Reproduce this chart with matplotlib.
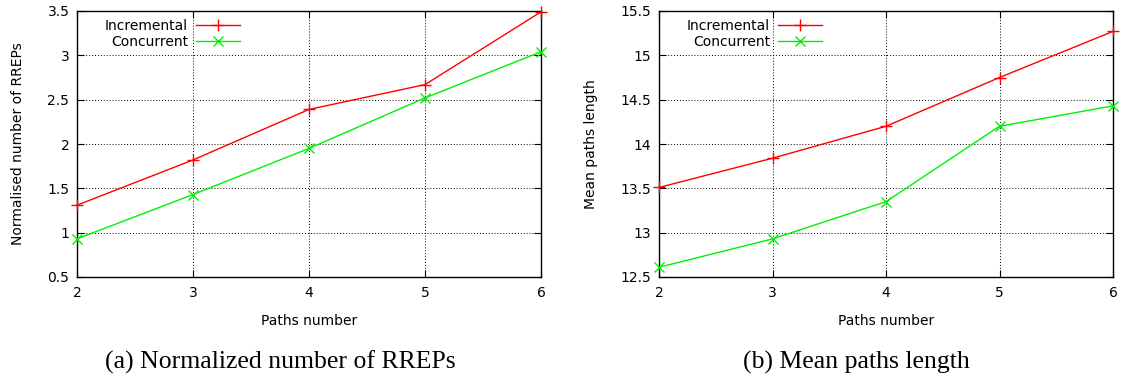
import matplotlib.pyplot as plt

# data
paths = [2, 3, 4, 5, 6]

rreps_incremental = [1.31, 1.82, 2.39, 2.67, 3.49]
rreps_concurrent = [0.93, 1.43, 1.95, 2.52, 3.04]

length_incremental = [13.51, 13.84, 14.20, 14.75, 15.27]
length_concurrent = [12.61, 12.93, 13.35, 14.20, 14.43]

yticks_a = [0.5, 1, 1.5, 2, 2.5, 3, 3.5]
yticks_b = [12.5, 13, 13.5, 14, 14.5, 15, 15.5]

plt.rcParams['font.family'] = ['DejaVu Sans']

W, H = 1126, 381
fig = plt.figure(figsize=(W / 100, H / 100), dpi=100)


def box(x0, x1, y0, y1):
    # pixel box -> figure fraction rect
    return [x0 / W, 1 - y1 / H, (x1 - x0) / W, (y1 - y0) / H]


ax1 = fig.add_axes(box(77, 541, 11, 277))
ax2 = fig.add_axes(box(659, 1113, 11, 277))


def draw(ax, inc, conc, yticks, ylabel, width_px):
    ax.plot(paths, inc, color='#ff0000', marker='+', markersize=8, markeredgewidth=1.0,
            linewidth=1.0, label='Incremental', clip_on=False, zorder=3)
    ax.plot(paths, conc, color='#00f000', marker='x', markersize=7, markeredgewidth=1.0,
            linewidth=1.0, label='Concurrent', clip_on=False, zorder=3)
    ax.set_xlim(2, 6)
    ax.set_ylim(yticks[0], yticks[-1])
    ax.set_xticks(paths)
    ax.set_yticks(yticks)
    ax.set_yticklabels(['%g' % v for v in yticks])
    ax.grid(True, color='black', linestyle=(0, (1, 2)), linewidth=0.7)
    ax.tick_params(direction='in', top=True, right=True, labelsize=10, length=5, width=0.8)
    ax.tick_params(axis='x', pad=6.5)
    ax.tick_params(axis='y', pad=5.5)
    for s in ax.spines.values():
        s.set_linewidth(1.0)
    ax.set_xlabel('Paths number', fontsize=10, labelpad=10)
    ax.set_ylabel(ylabel, fontsize=10, labelpad=16)
    # key sits in the top left, text to the left of the sample line
    ax.legend(loc='upper right', frameon=False, markerfirst=False, fontsize=10,
              handlelength=3.2, handletextpad=0.55, labelspacing=0.12,
              borderpad=0, borderaxespad=0,
              bbox_to_anchor=(163 / width_px, 1 - 8 / 266))


draw(ax1, rreps_incremental, rreps_concurrent, yticks_a, 'Normalised number of RREPs', 464)
draw(ax2, length_incremental, length_concurrent, yticks_b, 'Mean paths length', 454)

fig.text(280 / W, 1 - 369 / H, '(a) Normalized number of RREPs', ha='center', va='baseline',
         fontsize=18.5, family='Liberation Serif')
fig.text(856 / W, 1 - 369 / H, '(b) Mean paths length', ha='center', va='baseline',
         fontsize=18.5, family='Liberation Serif')

fig.savefig('out.png', dpi=100)
